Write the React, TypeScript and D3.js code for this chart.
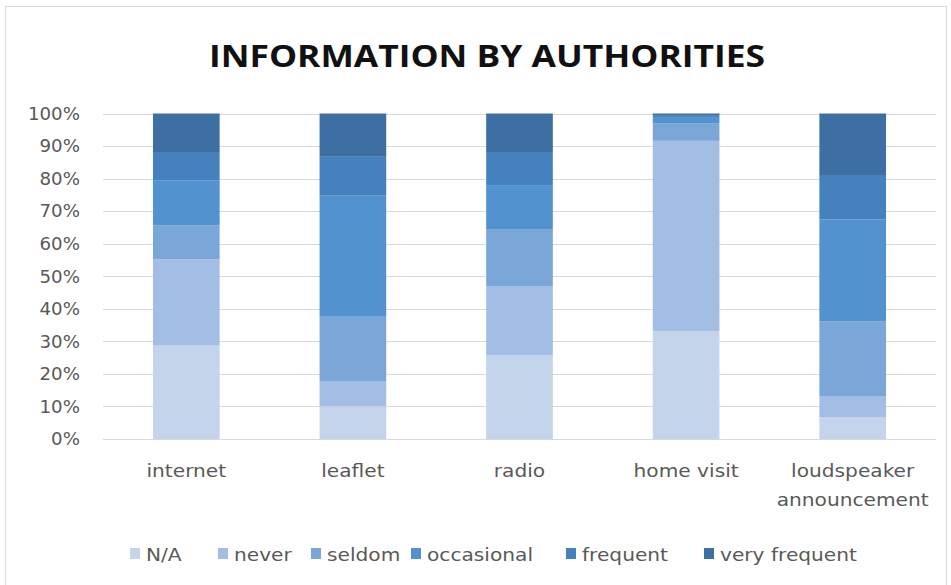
import React from "react";
import * as d3 from "d3";

const categories = ["internet", "leaflet", "radio", "home visit", "loudspeaker announcement"];
const seriesNames = ["N/A", "never", "seldom", "occasional", "frequent", "very frequent"];
const naValues = [28.7, 10.1, 25.7, 33.2, 6.6];
const neverValues = [26.5, 7.7, 21.3, 58.4, 6.6];
const seldomValues = [10.5, 20.0, 17.5, 5.3, 23.0];
const occasionalValues = [13.8, 37.1, 13.5, 2.0, 31.3];
const frequentValues = [8.4, 11.8, 9.9, 0.4, 13.6];
const veryFrequentValues = [12.1, 13.3, 12.1, 0.7, 18.9];
const yTicks = [0, 10, 20, 30, 40, 50, 60, 70, 80, 90, 100];
const title = "INFORMATION BY AUTHORITIES";

const colors = ["#c4d4ea", "#a2bee4", "#7ba6d8", "#5192cf", "#4581bd", "#3e6fa3"];

const W = 951;
const H = 585;
const plotLeft = 103;
const plotRight = 936;
const plotTop = 113.5;
const plotBottom = 439;
const legendX = [130, 218, 311, 411, 566, 704];

export default function App() {
  const seriesValues = [naValues, neverValues, seldomValues, occasionalValues, frequentValues, veryFrequentValues];
  const rows = categories.map((c, i) => {
    const r: any = { category: c };
    seriesNames.forEach((s, j) => (r[s] = seriesValues[j][i]));
    return r;
  });
  const stacked = d3.stack().keys(seriesNames).offset(d3.stackOffsetExpand)(rows);

  const x = d3.scaleBand().domain(categories).range([plotLeft, plotRight]).paddingInner(0.6).paddingOuter(0.3);
  const y = d3.scaleLinear().domain([0, 100]).range([plotBottom, plotTop]);
  const yFrac = d3.scaleLinear().domain([0, 1]).range([plotBottom, plotTop]);
  const textColor = "#595959";
  const font = "'DejaVu Sans', sans-serif";
  const sx = 1.12;

  const wrap = (s: string) => (s.length > 12 ? s.split(" ") : [s]);

  return (
    <>
      <style>{`body{margin:0}`}</style>
      <svg width={W} height={H} style={{ display: "block", background: "#fff" }}>
        <rect x={5.5} y={6.5} width={941} height={600} fill="#fff" stroke="#d9d9d9" strokeWidth={1} />
        <text
          x={487}
          y={67}
          textAnchor="middle"
          fontFamily="'Open Sans', 'Liberation Sans', sans-serif"
          fontWeight="bold"
          fontSize={30}
          fill="#111"
          textLength={556}
          lengthAdjust="spacingAndGlyphs"
        >
          {title}
        </text>
        {yTicks.map((t) => (
          <g key={t}>
            <line x1={plotLeft} x2={plotRight} y1={Math.round(y(t)) + 0.5} y2={Math.round(y(t)) + 0.5} stroke="#d9d9d9" strokeWidth={1} />
            <text
              transform={`translate(80,${y(t)}) scale(1.04,1)`}
              dy="0.36em"
              textAnchor="end"
              fontFamily={font}
              fontSize={17.5}
              fill={textColor}
            >
              {t}%
            </text>
          </g>
        ))}
        {stacked.map((layer, si) => (
          <g key={layer.key} fill={colors[si]}>
            {layer.map((d, ci) => (
              <rect
                key={ci}
                x={x(categories[ci])}
                width={x.bandwidth()}
                y={yFrac(d[1])}
                height={Math.max(0, yFrac(d[0]) - yFrac(d[1]))}
              />
            ))}
          </g>
        ))}
        {categories.map((c) => (
          <text
            key={c}
            transform={`translate(${(x(c) as number) + x.bandwidth() / 2},477) scale(${sx},1)`}
            textAnchor="middle"
            fontFamily={font}
            fontSize={18}
            fill={textColor}
          >
            {wrap(c).map((line, i) => (
              <tspan key={i} x={0} dy={i === 0 ? 0 : 29}>
                {line}
              </tspan>
            ))}
          </text>
        ))}
        {seriesNames.map((s, i) => (
          <g key={s} transform={`translate(${legendX[i]},548)`}>
            <rect x={0} y={0} width={10} height={11} fill={colors[i]} />
            <text transform={`translate(16,13) scale(${sx},1)`} fontFamily={font} fontSize={18} fill={textColor}>
              {s}
            </text>
          </g>
        ))}
      </svg>
    </>
  );
}
